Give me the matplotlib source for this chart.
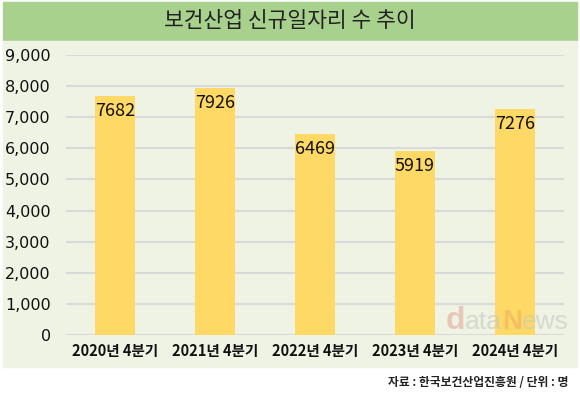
import matplotlib
matplotlib.use('AGG')
import matplotlib.pyplot as plt
from matplotlib.patches import Rectangle
import matplotlib.ticker as ticker

plt.rcParams['font.family'] = ['Noto Sans CJK KR', 'DejaVu Sans']

quarters = ['2020년 4분기', '2021년 4분기', '2022년 4분기', '2023년 4분기', '2024년 4분기']
jobs = [7682, 7926, 6469, 5919, 7276]
yticks = [0, 1000, 2000, 3000, 4000, 5000, 6000, 7000, 8000, 9000]

W, H = 580, 396
fig = plt.figure(figsize=(W / 100, H / 100), dpi=100)
fig.patch.set_facecolor('white')

# title band and panel background
fig.patches.append(Rectangle((3 / W, 1 - 40 / H), 574 / W, 38 / H,
                             transform=fig.transFigure, color='#A9D18E', zorder=-2))
fig.patches.append(Rectangle((3 / W, 1 - 367 / H), 574 / W, 326 / H,
                             transform=fig.transFigure, color='#EEF3E4', zorder=-2))
fig.text(0.5, 1 - 21 / H, '보건산업 신규일자리 수 추이', ha='center', va='center',
         fontsize=15.5, color='#222222')

ax = fig.add_axes([66 / W, 1 - 335 / H, 498 / W, 280 / H])
ax.set_zorder(2)
ax.set_facecolor('none')
x = range(len(quarters))
ax.bar(x, jobs, width=0.4, color='#FFD966', zorder=2)
for i, v in zip(x, jobs):
    ax.text(i, v - 480, str(v), ha='center', va='center', fontsize=13, color='#111111', zorder=3)

ax.set_xlim(-0.49, len(quarters) - 0.51)
ax.set_ylim(0, 9000)
ax.set_yticks(yticks)
ax.yaxis.set_major_formatter(ticker.StrMethodFormatter('{x:,.0f}'))
ax.set_xticks(list(x))
ax.set_xticklabels(quarters, fontsize=10.5, fontweight='bold', color='#111111')
ax.tick_params(axis='y', length=0, pad=11, labelsize=11.5, labelcolor='#111111')
ax.tick_params(axis='x', length=0, pad=6)
ax.grid(axis='y', color='#D9D9D9', linewidth=1.5, zorder=1)
ax.set_axisbelow(True)
for s in ax.spines.values():
    s.set_visible(False)
for lbl in ax.get_yticklabels():
    lbl.set_family(['DejaVu Sans'])

# watermark
wm = [('d', '#E8A89C', 23, 'bold'), ('ata', '#C5C8C0', 19, 'normal'),
      ('N', '#F0B060', 20, 'bold'), ('ews', '#C5C8C0', 19, 'normal')]
renderer = fig.canvas.get_renderer()
px = 446
for t, c, fs, fw in wm:
    tx = fig.text(px / W, 1 - 329 / H, t, fontsize=fs, color=c, ha='left', va='baseline',
                  family=['Liberation Sans'], fontweight=fw, alpha=0.6, zorder=5)
    px += tx.get_window_extent(renderer).width

fig.text(568 / W, 1 - 382 / H, '자료 : 한국보건산업진흥원 / 단위 : 명', ha='right', va='center',
         fontsize=8.5, fontweight='bold', color='#222222')

plt.savefig('out.png', dpi=100, facecolor=fig.get_facecolor())
